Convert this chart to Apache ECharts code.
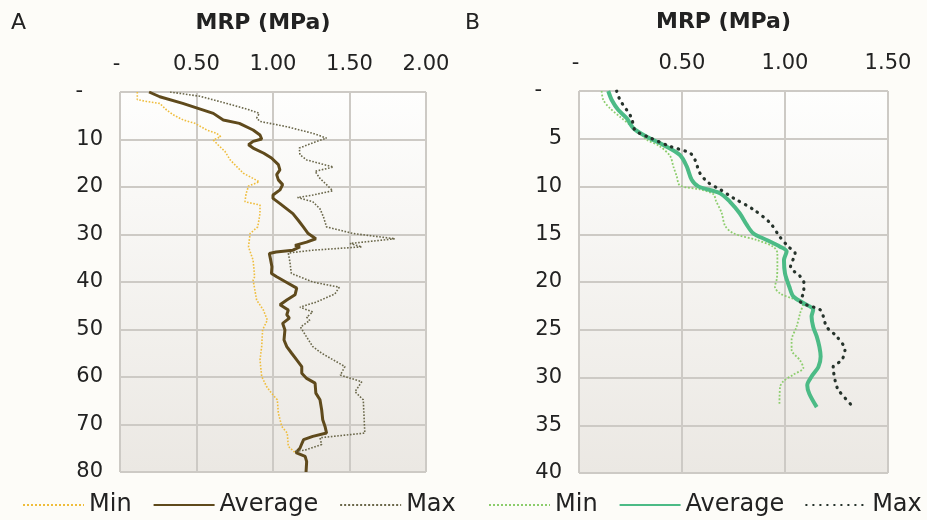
<!DOCTYPE html>
<html>
<head>
<meta charset="UTF-8">
<title>MRP profiles</title>
<script src="https://cdn.jsdelivr.net/npm/echarts@6.0.0/dist/echarts.min.js"></script>
</head>
<body style="margin:0; background:#fdfcf8;">
<div id="chart" style="width:927px; height:520px;"></div>
<script>
    // panel A: depth (y) and MRP (x)
    const depthMinA = [0, 1.6, 2.0, 2.4, 3.8, 4.8, 5.9, 6.6, 8.0, 8.7, 9.4, 10.1, 11.1, 12.5, 14.3, 15.7, 17.1, 18.2, 18.9, 19.8, 21.4, 23.1, 23.8, 25.6, 28.4, 29.8, 32.6, 35.4, 38.9, 39.6, 43.8, 45.9, 48.0, 50.1, 53.6, 56.4, 59.9, 62.0, 63.4, 64.8, 67.6, 70.4, 71.8, 74.6, 75.9];
    const mrpMinA = [0.113, 0.113, 0.174, 0.26, 0.305, 0.348, 0.414, 0.49, 0.567, 0.632, 0.658, 0.61, 0.64, 0.686, 0.72, 0.763, 0.806, 0.87, 0.91, 0.84, 0.824, 0.817, 0.915, 0.915, 0.9, 0.85, 0.84, 0.87, 0.88, 0.87, 0.893, 0.937, 0.963, 0.932, 0.926, 0.915, 0.926, 0.958, 0.99, 1.028, 1.035, 1.057, 1.093, 1.1, 1.144];

    const depthAvgA = [0, 1.0, 2.4, 4.5, 5.9, 6.6, 8.0, 9.05, 9.9, 10.4, 11.1, 11.8, 12.9, 13.9, 15.3, 16.4, 17.4, 18.5, 19.5, 20.6, 21.7, 22.4, 23.5, 24.6, 25.6, 27.0, 28.4, 29.8, 30.9, 31.6, 32.3, 32.6, 33.3, 33.7, 34.0, 35.4, 36.8, 38.2, 38.9, 40.1, 41.3, 42.7, 43.8, 44.8, 45.9, 46.9, 47.6, 48.7, 50.1, 52.2, 53.6, 55.0, 56.4, 57.8, 59.2, 60.3, 61.3, 63.4, 64.8, 66.9, 69.0, 70.4, 71.8, 72.5, 73.2, 73.9, 75.0, 75.9, 76.7, 77.8, 80];
    const mrpAvgA = [0.19, 0.26, 0.41, 0.61, 0.675, 0.78, 0.87, 0.915, 0.926, 0.87, 0.84, 0.87, 0.94, 0.99, 1.035, 1.045, 1.024, 1.035, 1.063, 1.046, 1.0, 1.0, 1.046, 1.09, 1.13, 1.165, 1.198, 1.23, 1.28, 1.22, 1.144, 1.176, 1.13, 1.02, 0.976, 0.985, 0.993, 0.99, 1.024, 1.09, 1.155, 1.144, 1.09, 1.046, 1.1, 1.09, 1.107, 1.063, 1.078, 1.072, 1.09, 1.122, 1.155, 1.188, 1.188, 1.22, 1.275, 1.28, 1.307, 1.318, 1.325, 1.34, 1.35, 1.26, 1.2, 1.19, 1.176, 1.15, 1.21, 1.22, 1.216];

    const depthMaxA = [0, 0.9, 2.4, 3.8, 4.5, 5.5, 6.2, 7.3, 8.7, 9.7, 10.7, 11.8, 13.2, 14.3, 15.8, 16.7, 18.2, 19.5, 20.8, 21.7, 22.2, 23.1, 24.6, 26.3, 28.4, 29.8, 30.9, 31.9, 32.6, 33.3, 33.9, 35.7, 38.2, 40.0, 41.1, 42.5, 44.2, 45.3, 46.3, 47.4, 48.1, 49.5, 51.6, 53.6, 55.0, 56.4, 57.8, 59.6, 61.0, 63.1, 64.8, 68.3, 71.8, 72.8, 74.2, 75.4, 75.6];
    const mrpMaxA = [0.327, 0.523, 0.697, 0.85, 0.91, 0.893, 0.915, 1.09, 1.26, 1.35, 1.26, 1.172, 1.176, 1.22, 1.394, 1.275, 1.307, 1.35, 1.39, 1.26, 1.16, 1.26, 1.307, 1.33, 1.35, 1.525, 1.797, 1.503, 1.58, 1.26, 1.1, 1.11, 1.12, 1.26, 1.433, 1.405, 1.285, 1.176, 1.26, 1.22, 1.24, 1.18, 1.22, 1.26, 1.318, 1.394, 1.47, 1.44, 1.58, 1.536, 1.59, 1.595, 1.6, 1.307, 1.318, 1.21, 1.144];

    // panel B
    const depthMinB = [0, 0.94, 1.8, 2.7, 3.7, 4.4, 5.1, 5.8, 6.8, 7.9, 8.9, 9.9, 10.3, 10.8, 11.5, 12.8, 14.1, 14.9, 15.6, 16.3, 17.0, 18.4, 19.7, 20.5, 21.2, 21.7, 22.2, 23.3, 24.7, 26.1, 27.1, 28.2, 29.0, 29.7, 30.4, 31.0, 32.9];
    const mrpMinB = [0.11, 0.118, 0.15, 0.199, 0.256, 0.296, 0.329, 0.393, 0.442, 0.458, 0.474, 0.49, 0.587, 0.652, 0.665, 0.693, 0.709, 0.749, 0.862, 0.943, 0.963, 0.963, 0.96, 0.951, 0.976, 1.032, 1.089, 1.073, 1.056, 1.032, 1.032, 1.073, 1.089, 1.04, 0.992, 0.976, 0.973];

    const depthAvgB = [0, 0.94, 2.0, 2.86, 3.9, 4.8, 5.65, 6.7, 7.9, 9.3, 10.0, 10.7, 11.6, 12.8, 14.0, 14.9, 15.6, 16.3, 16.8, 17.7, 19.1, 20.5, 21.5, 22.2, 22.9, 23.6, 24.7, 25.7, 26.8, 27.8, 28.9, 29.9, 30.8, 31.7, 33.1];
    const mrpAvgB = [0.142, 0.159, 0.191, 0.232, 0.264, 0.329, 0.41, 0.49, 0.523, 0.547, 0.58, 0.684, 0.733, 0.78, 0.814, 0.846, 0.911, 0.976, 1.008, 0.995, 1.0, 1.021, 1.04, 1.089, 1.137, 1.129, 1.137, 1.154, 1.167, 1.173, 1.162, 1.129, 1.108, 1.118, 1.154];

    const depthMaxB = [0, 0.94, 2.0, 2.86, 4.1, 4.9, 5.8, 6.5, 7.2, 8.6, 9.6, 10.3, 11.2, 12.4, 13.8, 15.3, 16.3, 17.0, 18.4, 19.4, 20.1, 21.2, 22.0, 22.4, 22.9, 23.6, 24.7, 25.7, 27.1, 28.2, 28.9, 30.3, 31.3, 33.1];
    const mrpMaxB = [0.183, 0.199, 0.232, 0.256, 0.272, 0.345, 0.442, 0.539, 0.563, 0.587, 0.628, 0.684, 0.749, 0.846, 0.927, 0.976, 1.016, 1.049, 1.027, 1.073, 1.092, 1.089, 1.073, 1.105, 1.17, 1.186, 1.202, 1.251, 1.291, 1.275, 1.234, 1.243, 1.259, 1.332];

    const legendNames = ['Min', 'Average', 'Max'];

    function pairs(depths, values) {
        return depths.map((d, i) => [values[i], d]);
    }

    const font = 'DejaVu Sans';
    const plotBg = {
        type: 'linear', x: 0, y: 0, x2: 0, y2: 1,
        colorStops: [{ offset: 0, color: '#fefefd' }, { offset: 1, color: '#ebe8e3' }]
    };

    function xAxisFor(gridIndex, max) {
        return {
            gridIndex: gridIndex,
            type: 'value',
            position: 'top',
            min: 0, max: max, interval: 0.5,
            name: 'MRP (MPa)',
            nameLocation: 'middle',
            nameGap: 58,
            nameTextStyle: { fontFamily: font, fontSize: 22, fontWeight: 'bold', color: '#222', padding: [0, 20, 0, 0] },
            axisLine: { show: false },
            axisTick: { show: false },
            axisLabel: {
                margin: 17, fontFamily: font, fontSize: 21, color: '#222',
                formatter: v => v === 0 ? '- ' : v.toFixed(2)
            },
            splitLine: { show: true, lineStyle: { color: '#cdcac5', width: 2 } }
        };
    }

    function yAxisFor(gridIndex, max, step) {
        return {
            gridIndex: gridIndex,
            type: 'value',
            inverse: true,
            min: 0, max: max, interval: step,
            axisLine: { show: false },
            axisTick: { show: false },
            axisLabel: {
                margin: 17, fontFamily: font, fontSize: 21, color: '#222',
                formatter: v => v === 0 ? '-   ' : String(v)
            },
            splitLine: { show: true, lineStyle: { color: '#cdcac5', width: 2 } }
        };
    }

    function lineSeries(name, idx, data, color, width, type, smooth, cap) {
        return {
            name: name,
            type: 'line',
            xAxisIndex: idx,
            yAxisIndex: idx,
            data: data,
            symbol: 'none',
            smooth: smooth,
            lineStyle: { color: color, width: width, type: type, cap: cap || 'butt' },
            itemStyle: { color: color }
        };
    }

    function legendFor(prefix, left) {
        return {
            data: legendNames.map(n => prefix + n),
            formatter: n => n.slice(2),
            left: left, top: 493,
            padding: 0,
            itemWidth: 61, itemHeight: 14, itemGap: 21,
            itemStyle: { color: 'rgba(0,0,0,0)', borderWidth: 0, opacity: 0 },
            textStyle: { fontFamily: font, fontSize: 24, color: '#222' }
        };
    }

    const chart = echarts.init(document.getElementById('chart'));

    chart.setOption({
        animation: false,
        backgroundColor: '#fdfcf8',
        graphic: [
            { type: 'text', left: 11, top: 12, style: { text: 'A', fontFamily: font, fontSize: 22, fill: '#222' } },
            { type: 'text', left: 465, top: 12, style: { text: 'B', fontFamily: font, fontSize: 22, fill: '#222' } }
        ],
        grid: [
            { left: 120, top: 92, width: 306, height: 380, show: true, backgroundColor: plotBg, borderWidth: 0 },
            { left: 579, top: 91, width: 309, height: 382, show: true, backgroundColor: plotBg, borderWidth: 0 }
        ],
        xAxis: [xAxisFor(0, 2), xAxisFor(1, 1.5)],
        yAxis: [yAxisFor(0, 80, 10), yAxisFor(1, 40, 5)],
        legend: [legendFor('A ', 22), legendFor('B ', 488)],
        series: [
            lineSeries('A Min', 0, pairs(depthMinA, mrpMinA), '#efbd3c', 1.6, 'dotted', false),
            lineSeries('A Average', 0, pairs(depthAvgA, mrpAvgA), '#5f4a1c', 3, 'solid', false),
            lineSeries('A Max', 0, pairs(depthMaxA, mrpMaxA), '#6a674a', 1.6, 'dotted', false),
            lineSeries('B Min', 1, pairs(depthMinB, mrpMinB), '#8ccd6c', 1.8, 'dotted', 0.3),
            lineSeries('B Average', 1, pairs(depthAvgB, mrpAvgB), '#4cbb86', 4, 'solid', 0.3),
            lineSeries('B Max', 1, pairs(depthMaxB, mrpMaxB), '#26332b', 3.2, [0.5, 6.5], 0.3, 'round')
        ]
    });
</script>
</body>
</html>
